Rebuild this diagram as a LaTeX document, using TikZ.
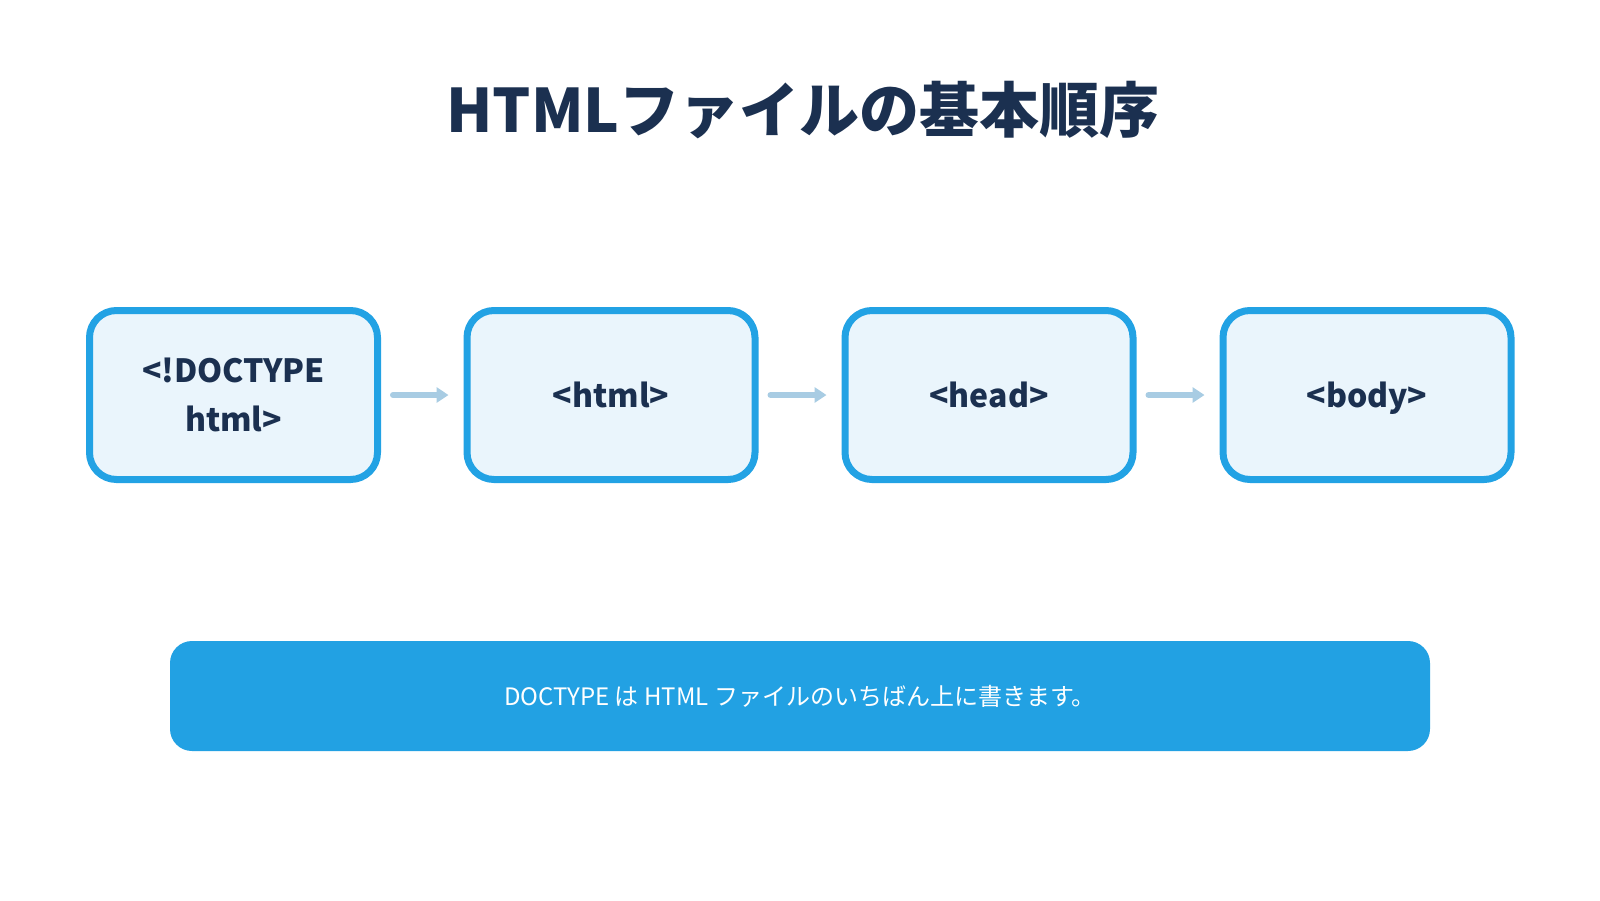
\documentclass[tikz,border=0pt]{standalone}
\usepackage{fontspec}
\setmainfont{Noto Sans CJK JP}
\usetikzlibrary{arrows.meta}
\definecolor{navy}{HTML}{1B3050}
\definecolor{boxline}{HTML}{22A2E4}
\definecolor{boxfill}{HTML}{EAF5FC}
\definecolor{arrowc}{HTML}{A8CCE3}
\definecolor{banner}{HTML}{22A1E3}
\newcommand{\lstrut}{\rule[-12pt]{0pt}{48pt}}
\tikzset{
  stepbox/.style={draw=boxline, fill=boxfill, line width=7pt, rounded corners=27pt,
    minimum width=288pt, minimum height=169pt, align=center, text=navy, inner sep=0pt,
    font=\fontsize{32}{46}\selectfont\bfseries},
  flowarrow/.style={draw=arrowc, line width=6pt, line cap=round,
    -{Triangle[length=12pt,width=15pt]}, shorten <=12pt, shorten >=15pt},
}
\begin{document}
\begin{tikzpicture}[x=1pt,y=-1pt]
\useasboundingbox (0,0) rectangle (1600,900);
\node[text=navy, font=\fontsize{60}{70}\selectfont\bfseries] (title) at (803,110) {HTMLファイルの基本順序};
\node[stepbox] (b1) at (233.5,395) {\lstrut<!DOCTYPE\\\lstrut html>};
\node[stepbox] (b2) at (611,395) {\lstrut<html>};
\node[stepbox] (b3) at (989,395) {\lstrut<head>};
\node[stepbox] (b4) at (1367,395) {\lstrut<body>};
\draw[flowarrow] (b1.east) -- (b2.west);
\draw[flowarrow] (b2.east) -- (b3.west);
\draw[flowarrow] (b3.east) -- (b4.west);
\node[fill=banner, rounded corners=22pt, minimum width=1260pt, minimum height=110pt,
  text=white, font=\fontsize{24}{28}\selectfont] (note) at (800,696)
  {DOCTYPE は HTML ファイルのいちばん上に書きます。};
\end{tikzpicture}
\end{document}
